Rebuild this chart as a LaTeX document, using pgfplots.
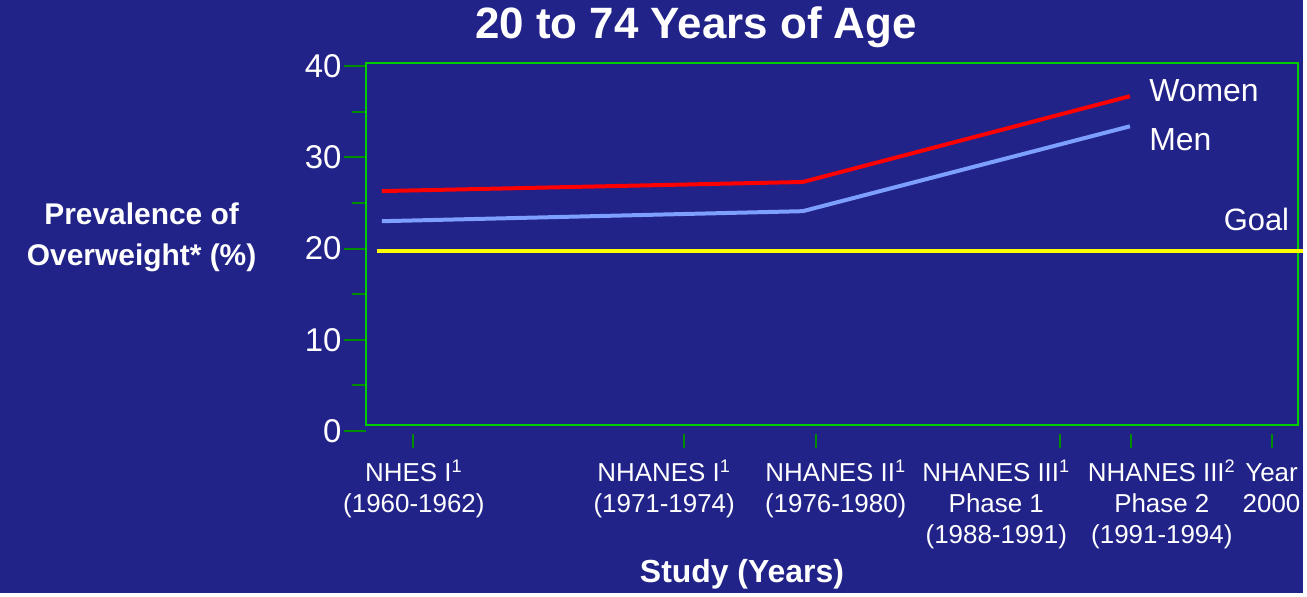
\documentclass[border=0pt]{standalone}
\usepackage{fontspec}
\setmainfont{Liberation Sans}
\usepackage{pgfplots}
\pgfplotsset{compat=1.18}
\definecolor{bg}{RGB}{34,35,137}
\definecolor{boxgreen}{RGB}{0,204,0}
\definecolor{tickgreen}{RGB}{0,140,0}
\definecolor{menblue}{RGB}{125,160,255}
\definecolor{goalyellow}{RGB}{255,255,0}
\begin{document}
\begin{tikzpicture}
\fill[bg] (0pt,0pt) rectangle (653.5pt,297pt);
\begin{axis}[
  at={(183.35pt,81pt)}, anchor=south west,
  x=0.5pt, y=4.575pt,
  xmin=366.7, xmax=1302, ymin=0, ymax=40,
  clip=false,
  axis line style={draw=none},
  tick pos=left, tick align=outside,
  major tick length=11pt, minor tick length=7pt,
  tick style={tickgreen, line width=1pt},
  ytick={0,10,20,30,40},
  minor ytick={5,15,25,35},
  xtick={415,666,838,999,1165,1275},
  xticklabels={{NHES I\textsuperscript{1}\\(1960-1962)},
               {NHANES I\textsuperscript{1}\\(1971-1974)},
               {NHANES II\textsuperscript{1}\\(1976-1980)},
               {NHANES III\textsuperscript{1}\\Phase 1\\(1988-1991)},
               {NHANES III\textsuperscript{2}\\Phase 2\\(1991-1994)},
               {\vphantom{I\textsuperscript{1}}Year\\2000}},
  major x tick style={draw=none},
  minor xtick={414,686,818,1063,1134,1275},
  minor x tick style={yshift=-1.5pt},
  xticklabel style={align=center, anchor=north, text=white,
    font=\fontsize{13}{15.5}\selectfont},
  yticklabel style={text=white, inner sep=1pt,
    font=\fontsize{16.5}{19}\selectfont},
  /pgf/number format/assume math mode=true,
]
\draw[boxgreen, line width=1pt] (axis cs:366.7,0.69) rectangle (axis cs:1302,40.36);
\addplot[goalyellow, line width=2pt] coordinates {(377.7,19.7) (1307,19.7)};
\addplot[menblue, line width=2pt] coordinates {(383,23.0) (805,24.1) (1133,33.4)};
\addplot[red, line width=2pt] coordinates {(383,26.3) (805,27.3) (1133,36.7)};
\end{axis}
\begin{scope}[x=0.5pt,y=-0.5pt,yshift=297pt]
\node[white, font=\bfseries\fontsize{22}{26}\selectfont] at (698,27) {20 to 74 Years of Age};
\node[white, anchor=west, inner sep=0pt, font=\fontsize{16}{19}\selectfont] at (1152,91) {Women};
\node[white, anchor=west, inner sep=0pt, font=\fontsize{16}{19}\selectfont] at (1152,140) {Men};
\node[white, anchor=east, inner sep=0pt, font=\fontsize{15.5}{19}\selectfont] at (1293,220) {Goal};
\node[white, align=center, font=\bfseries\fontsize{15}{20.5}\selectfont] at (142,238) {Prevalence of\\Overweight* (\%)};
\node[white, font=\bfseries\fontsize{16}{19}\selectfont] at (744,576) {Study (Years)};
\end{scope}
\end{tikzpicture}
\end{document}
